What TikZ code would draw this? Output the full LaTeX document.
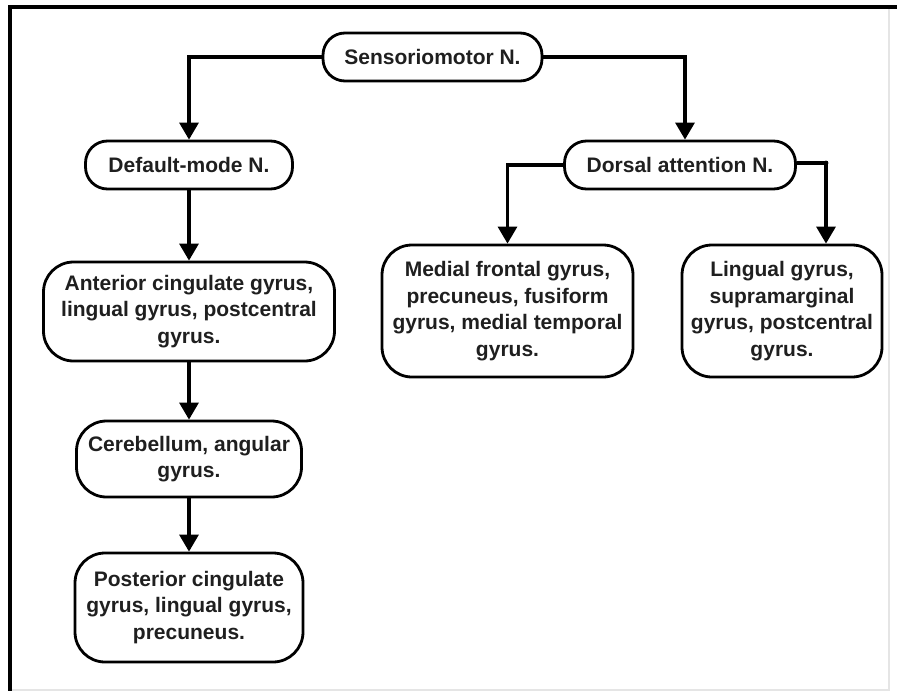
\documentclass[tikz,border=0pt]{standalone}
\usepackage{fontspec}
\setmainfont{Liberation Sans}
\usetikzlibrary{arrows.meta,calc}
\tikzset{
  box/.style={draw=black, line width=2.8pt, rounded corners=30pt, align=center,
    font=\fontsize{21}{26.5}\selectfont\bfseries, text=black!88, inner sep=0pt},
  sbox/.style={box, rounded corners=22pt},
  arr/.style={draw=black, line width=3.2pt, -{Triangle[width=19pt,length=17pt]}},
}
\begin{document}
\begin{tikzpicture}[x=1pt,y=-1pt]
\useasboundingbox (0,0) rectangle (897,691);
% frame
\draw[gray!20, line width=1.5pt] (889,7) -- (889,690) -- (10,690);
\draw[black, line width=3.2pt] (8,7) -- (897,7);
\draw[black, line width=3.2pt] (10,7) -- (10,691);
% nodes
\node[sbox, minimum width=219pt, minimum height=48pt] (sens) at (432.5,57) {Sensoriomotor N.};
\node[sbox, minimum width=207pt, minimum height=48pt] (dmn) at (189,165) {Default-mode N.};
\node[sbox, minimum width=231pt, minimum height=48pt] (dan) at (680,165) {Dorsal attention N.};
\node[box, minimum width=291pt, minimum height=99pt] (ant) at (189,311.5) {Anterior cingulate gyrus,\\lingual gyrus, postcentral\\gyrus.};
\node[box, minimum width=225pt, minimum height=76pt] (cer) at (189,459) {Cerebellum, angular\\gyrus.};
\node[box, minimum width=228pt, minimum height=109pt] (post) at (189,607.5) {Posterior cingulate\\gyrus, lingual gyrus,\\precuneus.};
\node[box, minimum width=251pt, minimum height=132pt] (med) at (507.5,311) {Medial frontal gyrus,\\precuneus, fusiform\\gyrus, medial temporal\\gyrus.};
\node[box, minimum width=200pt, minimum height=132pt] (lin) at (782,311) {Lingual gyrus,\\supramarginal\\gyrus, postcentral\\gyrus.};
% connectors
\coordinate (danin) at ($(dan.north)+(5,0)$);
\coordinate (linin) at ($(lin.north)+(44,0)$);
\coordinate (danr) at ($(dan.east)+(0,-2)$);
\draw[arr] (sens.west) -| (dmn.north);
\draw[arr] (sens.east) -| (danin);
\draw[arr] (dan.west) -| (med.north);
\draw[arr] (danr) -| (linin);
\fill (danr -| linin) circle (2.4pt);
\draw[arr] (dmn.south) -- (ant.north);
\draw[arr] (ant.south) -- (cer.north);
\draw[arr] (cer.south) -- (post.north);
\end{tikzpicture}
\end{document}
